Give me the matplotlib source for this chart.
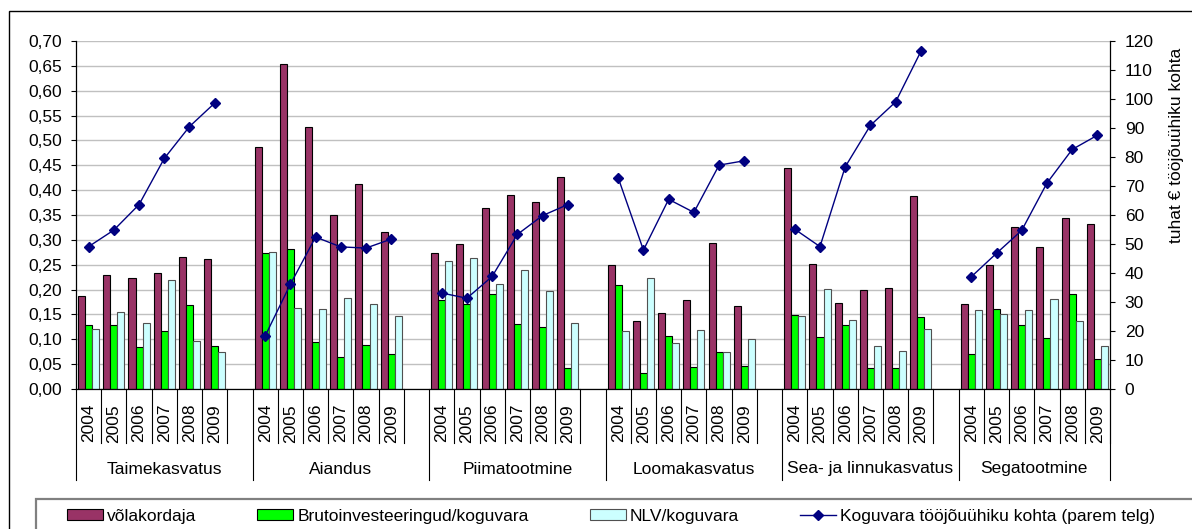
import matplotlib
matplotlib.use('Agg')
import matplotlib.pyplot as plt
from matplotlib.patches import Rectangle
from matplotlib.lines import Line2D
from matplotlib.ticker import FuncFormatter, MultipleLocator
from matplotlib.transforms import Bbox, TransformedBbox
import numpy as np

plt.rcParams['font.family'] = ['Liberation Sans', 'DejaVu Sans']

# ---------------- data ----------------
groups = ['Taimekasvatus', 'Aiandus', 'Piimatootmine', 'Loomakasvatus',
          'Sea- ja linnukasvatus', 'Segatootmine']
years = ['2004', '2005', '2006', '2007', '2008', '2009']

volakordaja = [
    [0.188, 0.229, 0.223, 0.233, 0.266, 0.262],
    [0.486, 0.653, 0.528, 0.349, 0.413, 0.315],
    [0.273, 0.291, 0.364, 0.391, 0.377, 0.426],
    [0.249, 0.137, 0.153, 0.180, 0.293, 0.166],
    [0.444, 0.251, 0.173, 0.200, 0.204, 0.389],
    [0.170, 0.249, 0.326, 0.286, 0.344, 0.331],
]
bruto_koguvara = [
    [0.129, 0.129, 0.084, 0.117, 0.168, 0.086],
    [0.273, 0.282, 0.095, 0.064, 0.089, 0.070],
    [0.180, 0.170, 0.192, 0.131, 0.124, 0.042],
    [0.209, 0.033, 0.106, 0.044, 0.075, 0.046],
    [0.148, 0.104, 0.128, 0.042, 0.042, 0.144],
    [0.070, 0.160, 0.129, 0.102, 0.192, 0.060],
]
nlv_koguvara = [
    [0.121, 0.155, 0.133, 0.220, 0.097, 0.075],
    [0.276, 0.162, 0.160, 0.184, 0.170, 0.146],
    [0.258, 0.264, 0.211, 0.240, 0.198, 0.133],
    [0.117, 0.223, 0.093, 0.119, 0.075, 0.100],
    [0.146, 0.202, 0.139, 0.086, 0.076, 0.121],
    [0.158, 0.151, 0.158, 0.182, 0.137, 0.086],
]
koguvara_tooj = [
    [49.1, 54.8, 63.6, 79.5, 90.5, 98.6],
    [18.3, 36.1, 52.4, 49.0, 48.6, 51.7],
    [33.1, 31.3, 38.8, 53.3, 59.8, 63.6],
    [72.8, 47.9, 65.4, 60.9, 77.2, 78.7],
    [55.1, 49.1, 76.6, 90.9, 99.0, 116.4],
    [38.7, 46.8, 54.7, 71.0, 82.6, 87.5],
]
series_labels = ['võlakordaja', 'Brutoinvesteeringud/koguvara', 'NLV/koguvara',
                 'Koguvara tööjõuühiku kohta (parem telg)']
right_label = 'tuhat € tööjõuühiku kohta'

# ---------------- layout ----------------
W, H = 1192, 529
FS = 12.5
fig = plt.figure(figsize=(W / 100, H / 100), dpi=100)
L, R, T, B = 76, 1110, 41, 389
ax = fig.add_axes([L / W, 1 - B / H, (R - L) / W, (B - T) / H])

ng, ny = len(groups), len(years)
step = ny + 1
n_slots = ng * step - 1
pos = np.array([step * g + i + 0.5 for g in range(ng) for i in range(ny)])

bw = 0.28
ax.bar(pos - bw, np.ravel(volakordaja), bw, color='#993366', edgecolor='black',
       linewidth=0.8, label=series_labels[0], zorder=2)
ax.bar(pos, np.ravel(bruto_koguvara), bw, color='#00FF00', edgecolor='black',
       linewidth=0.8, label=series_labels[1], zorder=2)
ax.bar(pos + bw, np.ravel(nlv_koguvara), bw, color='#CCFFFF', edgecolor='#505050',
       linewidth=0.8, label=series_labels[2], zorder=2)

ax.set_xlim(0, n_slots)
ax.set_ylim(0, 0.70)
ax.yaxis.set_major_locator(MultipleLocator(0.05))
ax.yaxis.set_major_formatter(FuncFormatter(lambda v, p: f"{v:.2f}".replace('.', ',')))
ax.set_xticks([])
ax.yaxis.grid(True, color='#C0C0C0', linewidth=1.0)
ax.set_axisbelow(True)
ax.tick_params(axis='y', direction='out', length=3.6, width=0.8, pad=6.5,
               labelsize=FS, colors='black')
ax.spines['top'].set_visible(False)
ax.spines['right'].set_visible(False)
ax.spines['left'].set_linewidth(0.9)
ax.spines['bottom'].set_linewidth(0.9)

ax2 = ax.twinx()
xs, ys = [], []
for g in range(ng):
    for i in range(ny):
        xs.append(step * g + i + 0.5)
        ys.append(koguvara_tooj[g][i])
    xs.append(np.nan)
    ys.append(np.nan)
ax2.plot(xs, ys, color='#000080', linewidth=1.0, marker='D', markersize=5,
         markerfacecolor='#000080', markeredgecolor='#000080',
         label=series_labels[3], zorder=3)
ax2.set_ylim(0, 120)
ax2.yaxis.set_major_locator(MultipleLocator(10))
ax2.tick_params(axis='y', direction='out', length=3.6, width=0.8, pad=7,
                labelsize=FS, colors='black')
ax2.spines['top'].set_visible(False)
ax2.spines['left'].set_visible(False)
ax2.spines['bottom'].set_visible(False)
ax2.spines['right'].set_linewidth(0.9)
ax2.set_xlim(0, n_slots)

# ---------------- category axis (multi-level) ----------------
tr = ax.get_xaxis_transform()
ah = B - T
short_y = -(443 - B) / ah
long_y = -(480 - B) / ah
for g in range(ng):
    for i in range(1, ny + 1):
        ax.add_line(Line2D([step * g + i] * 2, [0, short_y], transform=tr,
                           color='black', linewidth=0.8, clip_on=False))
group_edges = [step * g for g in range(ng)] + [n_slots]
for e in group_edges:
    ax.add_line(Line2D([e, e], [0, long_y], transform=tr, color='black',
                       linewidth=0.8, clip_on=False))
for g in range(ng):
    for i in range(ny):
        ax.text(step * g + i + 0.5, -(404 - B) / ah, years[i], transform=tr,
                rotation=90, ha='center', va='top', fontsize=FS)
    end = step * g + step if g < ng - 1 else n_slots
    ax.text((step * g + end) / 2, -(469 - B) / ah, groups[g], transform=tr,
            ha='center', va='center', fontsize=FS)

# right axis title (clipped at the top like the original)
t = fig.text(1176 / W, 1 - 243 / H, right_label, rotation=90, ha='center',
             va='bottom', fontsize=FS)
t.set_clip_box(TransformedBbox(Bbox([[1140 / W, 0], [1, 1 - 44 / H]]), fig.transFigure))
t.set_clip_on(True)

# ---------------- legend ----------------
h1, l1 = ax.get_legend_handles_labels()
h2, l2 = ax2.get_legend_handles_labels()
fig.legend(h1 + h2, l1 + l2, loc='upper left', bbox_to_anchor=(67 / W, 1 - 509 / H),
           ncol=4, frameon=False, fontsize=FS, handlelength=2.07, handleheight=0.58,
           handletextpad=0.25, columnspacing=3.5, borderpad=0, borderaxespad=0)

# frames
fig.add_artist(Rectangle((9 / W, -0.5), 2, 0.5 + 1 - 11 / H, transform=fig.transFigure,
                         fill=False, edgecolor='black', linewidth=1.0))
fig.add_artist(Rectangle((36 / W, -0.5), 2, 0.5 + 1 - 499 / H, transform=fig.transFigure,
                         fill=False, edgecolor='#808080', linewidth=1.6))

fig.savefig('out.png', dpi=100)
